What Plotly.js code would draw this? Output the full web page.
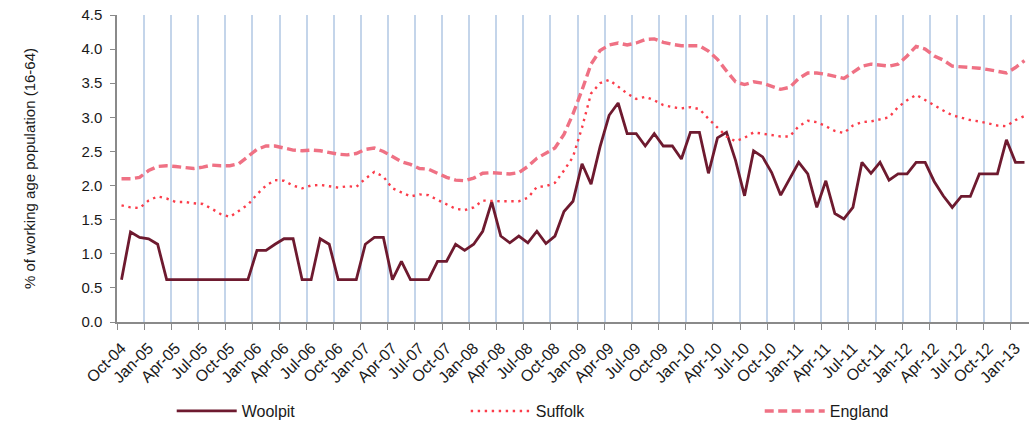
<!DOCTYPE html>
<html>
<head>
<meta charset="utf-8">
<script src="https://cdn.plot.ly/plotly-3.0.1.min.js"></script>
<style>html,body{margin:0;padding:0;background:#fff}#chart{width:1034px;height:422px}</style>
</head>
<body>
<div id="chart"></div>
<script>
// Months Oct-04 .. Feb-13 (101 monthly categories)
const monthNames = ["Jan","Feb","Mar","Apr","May","Jun","Jul","Aug","Sep","Oct","Nov","Dec"];
const months = [];
for (let k = 0; k < 101; k++) {
  const m = (9 + k) % 12;
  const y = 4 + Math.floor((9 + k) / 12);
  months.push(monthNames[m] + "-" + String(y).padStart(2, "0"));
}

const woolpit = [0.62,1.32,1.24,1.22,1.14,0.62,0.62,0.62,0.62,0.62,
  0.62,0.62,0.62,0.62,0.62,1.05,1.05,1.14,1.22,1.22,
  0.62,0.62,1.22,1.14,0.62,0.62,0.62,1.14,1.24,1.24,
  0.62,0.89,0.62,0.62,0.62,0.89,0.89,1.14,1.05,1.14,
  1.33,1.76,1.26,1.16,1.26,1.16,1.33,1.15,1.26,1.62,
  1.77,2.32,2.02,2.57,3.03,3.21,2.76,2.76,2.58,2.76,
  2.58,2.58,2.39,2.78,2.78,2.18,2.70,2.78,2.37,1.85,
  2.51,2.42,2.19,1.86,2.11,2.34,2.17,1.68,2.07,1.59,
  1.51,1.68,2.34,2.18,2.34,2.08,2.17,2.17,2.34,2.34,
  2.06,1.85,1.68,1.84,1.84,2.17,2.17,2.17,2.67,2.34,
  2.34];

const suffolk = [1.71,1.68,1.67,1.78,1.84,1.81,1.76,1.76,1.74,1.73,
  1.66,1.58,1.54,1.63,1.72,1.87,2.00,2.08,2.07,2.00,
  1.96,2.00,2.01,1.99,1.97,1.99,1.98,2.10,2.20,2.13,
  1.96,1.90,1.84,1.87,1.86,1.79,1.72,1.66,1.64,1.68,
  1.78,1.77,1.77,1.77,1.77,1.82,1.98,1.99,2.04,2.22,
  2.42,2.85,3.35,3.50,3.55,3.45,3.35,3.27,3.30,3.25,
  3.18,3.15,3.13,3.15,3.12,2.98,2.85,2.72,2.65,2.70,
  2.78,2.76,2.73,2.72,2.72,2.87,2.95,2.93,2.87,2.80,
  2.77,2.88,2.93,2.94,2.97,3.00,3.15,3.25,3.33,3.25,
  3.17,3.10,3.03,2.99,2.96,2.94,2.91,2.88,2.87,2.96,
  3.02];

const england = [2.10,2.10,2.12,2.22,2.28,2.29,2.28,2.26,2.25,2.27,
  2.30,2.29,2.29,2.32,2.42,2.53,2.58,2.58,2.55,2.52,
  2.51,2.52,2.51,2.48,2.46,2.45,2.47,2.53,2.55,2.50,
  2.42,2.35,2.31,2.25,2.24,2.18,2.12,2.08,2.07,2.11,
  2.18,2.19,2.18,2.17,2.19,2.28,2.40,2.47,2.55,2.75,
  3.05,3.40,3.78,3.98,4.06,4.09,4.06,4.09,4.14,4.15,
  4.10,4.07,4.05,4.05,4.05,3.97,3.85,3.68,3.52,3.48,
  3.52,3.50,3.46,3.41,3.44,3.57,3.65,3.65,3.63,3.60,
  3.57,3.66,3.75,3.78,3.77,3.75,3.78,3.90,4.04,4.00,
  3.90,3.84,3.75,3.74,3.74,3.72,3.70,3.68,3.65,3.73,
  3.83];

const yTitle = "% of working age population (16-64)";

const traces = [
  {x: months, y: woolpit, name: "Woolpit", type: "scatter", mode: "lines",
   line: {color: "#6e1a2f", width: 2.8}},
  {x: months, y: suffolk, name: "Suffolk", type: "scatter", mode: "lines",
   line: {color: "#fb3c4a", width: 2.4, dash: "2.4px,4.6px"}},
  {x: months, y: england, name: "England", type: "scatter", mode: "lines",
   line: {color: "#ef7184", width: 3.4, dash: "9px,4.5px"}}
];

const layout = {
  width: 1034, height: 422,
  margin: {l: 117, r: 5, t: 15, b: 100, autoexpand: false},
  paper_bgcolor: "#fff", plot_bgcolor: "#fff",
  font: {family: "Liberation Sans, Arial, sans-serif", size: 15, color: "#1a1a1a"},
  showlegend: true,
  legend: {orientation: "h", x: 0.06, y: -0.29, xanchor: "left", yanchor: "middle",
           entrywidth: 219, entrywidthmode: "pixels", itemwidth: 60,
           font: {size: 16, color: "#1a1a1a"}},
  xaxis: {
    type: "category", range: [-0.5, 100.5],
    tickson: "boundaries", dtick: 3, tick0: 0,
    tickangle: -45, ticks: "outside", ticklen: 6, tickcolor: "#8a8a8a",
    ticklabelstandoff: 9,
    showgrid: true, gridcolor: "#c4d5ea", gridwidth: 2,
    showline: true, linecolor: "#8a8a8a", linewidth: 1.6,
    tickfont: {size: 16, color: "#1a1a1a"}, fixedrange: true, zeroline: false,
    automargin: false
  },
  yaxis: {
    range: [0, 4.5], dtick: 0.5, tick0: 0, tickformat: ".1f",
    ticks: "outside", ticklen: 5, tickcolor: "#8a8a8a",
    ticklabelstandoff: 5,
    showgrid: false, showline: true, linecolor: "#8a8a8a", linewidth: 1.6,
    zeroline: false, tickfont: {size: 15, color: "#1a1a1a"},
    automargin: false,
    title: {text: yTitle, font: {size: 15, color: "#1a1a1a"}, standoff: 42}
  }
};

Plotly.newPlot("chart", traces, layout, {displayModeBar: false, staticPlot: true});
</script>
</body>
</html>
